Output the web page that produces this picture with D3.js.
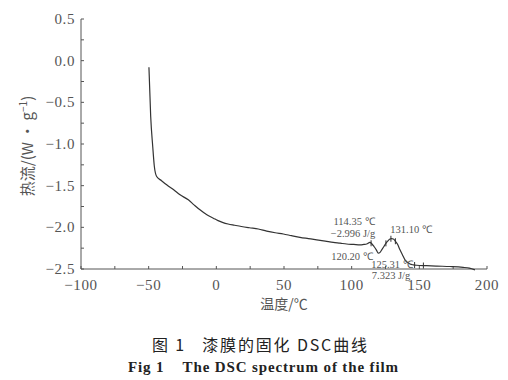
<!DOCTYPE html>
<html><head><meta charset="utf-8">
<script src="https://cdn.jsdelivr.net/npm/d3@7"></script>
<style>body{margin:0;background:#fff}svg{display:block}text{white-space:pre}</style>
</head><body>
<script>
// ---- data ----
const temps = [-49.8,-48.5,-47.0,-45.8,-44.1,-40.5,-36.7,-31.5,-26.8,-20.7,-16.5,-12.1,-7.0,-2.2,1.3,4.5,8.7,13.5,18.5,24.5,31.0,37.2,43.5,49.5,55.5,61.8,68.0,74.2,80.5,86.4,91.5,96.3,101.5,106.2,109.0,111.1,113.5,115.0,116.5,118.2,119.7,121.0,122.2,123.8,125.4,127.0,128.3,129.5,130.8,132.0,133.8,135.7,137.5,139.4,141.2,143.1,145.5,148.0,155.4,163.0,172.7,182.3,187.0,191.1];
const heatFlow = [-0.08,-0.67,-1.03,-1.27,-1.39,-1.44,-1.49,-1.55,-1.61,-1.67,-1.73,-1.79,-1.85,-1.89,-1.92,-1.94,-1.96,-1.975,-1.99,-2.005,-2.02,-2.045,-2.065,-2.08,-2.10,-2.12,-2.135,-2.15,-2.165,-2.18,-2.19,-2.20,-2.205,-2.21,-2.205,-2.20,-2.18,-2.20,-2.23,-2.27,-2.31,-2.30,-2.27,-2.23,-2.19,-2.16,-2.14,-2.135,-2.14,-2.16,-2.20,-2.27,-2.33,-2.39,-2.42,-2.44,-2.45,-2.455,-2.46,-2.465,-2.47,-2.48,-2.49,-2.51];
const xTicks = [-100,-50,0,50,100,150,200];
const yTicks = [0.5,0.0,-0.5,-1.0,-1.5,-2.0,-2.5];
const markTemps = [114.35,129.0,132.3,125.31,146.5,153.0];
const annotTexts = ["114.35 ℃","−2.996 J/g","131.10 ℃","120.20 ℃","125.31 ℃","7.323 J/g"];
const annotTemps = [101.7,101.0,143.9,100.2,129.8,129.1];
const annotValues = [-1.930,-2.068,-2.02,-2.344,-2.442,-2.580];

// ---- chart ----
const W=508,H=380;
const svg=d3.select("body").append("svg").attr("width",W).attr("height",H);
const x=d3.scaleLinear().domain([-100,200]).range([81,487]);
const y=d3.scaleLinear().domain([-2.5,0.5]).range([269,19]);
const axisColor="#555", textColor="#555";
const serif="'Liberation Serif','Times New Roman',serif";
const cjk="'Noto Sans CJK SC',sans-serif";

// axes lines
svg.append("line").attr("x1",x(-100)).attr("x2",x(200)).attr("y1",y(-2.5)).attr("y2",y(-2.5)).attr("stroke",axisColor).attr("stroke-width",1);
svg.append("line").attr("x1",x(-100)).attr("x2",x(-100)).attr("y1",y(-2.5)).attr("y2",y(0.5)).attr("stroke",axisColor).attr("stroke-width",1);

// minor ticks (inward)
const xMinor=d3.range(-100,201,25);
svg.selectAll(".xt").data(xMinor).join("line")
  .attr("x1",d=>x(d)).attr("x2",d=>x(d)).attr("y1",y(-2.5)).attr("y2",y(-2.5)-3)
  .attr("stroke",axisColor);
const yMinor=d3.range(-2.5,0.51,0.25);
svg.selectAll(".yt").data(yMinor).join("line")
  .attr("x1",x(-100)).attr("x2",x(-100)+3).attr("y1",d=>y(d)).attr("y2",d=>y(d))
  .attr("stroke",axisColor);

// tick labels
svg.selectAll(".xl").data(xTicks).join("text")
  .attr("x",d=>x(d)).attr("y",y(-2.5)+21).attr("text-anchor","middle")
  .attr("font-family",serif).attr("font-size",15).attr("letter-spacing",0.6).attr("fill",textColor)
  .text(d=>d<0?"−"+Math.abs(d):d);
svg.selectAll(".yl").data(yTicks).join("text")
  .attr("x",x(-100)-6).attr("y",d=>y(d)+5).attr("text-anchor","end")
  .attr("font-family",serif).attr("font-size",15).attr("letter-spacing",0.6).attr("fill",textColor)
  .text(d=>d<0?"−"+Math.abs(d).toFixed(1):d.toFixed(1));

// axis titles
svg.append("text").attr("x",284).attr("y",309).attr("text-anchor","middle")
  .attr("font-family",cjk).attr("font-size",14).attr("fill",textColor).text("温度/℃");
const yt=svg.append("text").attr("transform","translate(33,146) rotate(-90)").attr("text-anchor","middle")
  .attr("font-family",cjk).attr("font-size",15).attr("fill",textColor);
yt.append("tspan").text("热流/(W · g");
yt.append("tspan").attr("dy",-6).attr("font-size",10).text("−1");
yt.append("tspan").attr("dy",6).text(")");

// curve
const pts=temps.map((t,i)=>[t,heatFlow[i]]);
const line=d3.line().x(d=>x(d[0])).y(d=>y(d[1])).curve(d3.curveMonotoneX);
svg.append("path").attr("d",line(pts)).attr("fill","none").attr("stroke","#333").attr("stroke-width",1.2);

// markers on curve
const interp=d3.scaleLinear().domain(temps).range(heatFlow);
svg.selectAll(".mk").data(markTemps).join("line")
  .attr("x1",d=>x(d)).attr("x2",d=>x(d)).attr("y1",d=>y(interp(d))-3).attr("y2",d=>y(interp(d))+3)
  .attr("stroke","#333").attr("stroke-width",1);

// annotations
svg.selectAll(".an").data(annotTexts).join("text")
  .attr("x",(d,i)=>x(annotTemps[i])).attr("y",(d,i)=>y(annotValues[i])+3.5).attr("text-anchor","middle")
  .attr("font-family",serif).attr("font-size",10.5).attr("fill",textColor).text(d=>d);

// captions
svg.append("text").attr("x",152).attr("y",351)
  .attr("font-family",cjk).attr("font-size",16).attr("fill","#222")
  .attr("textLength",215).attr("lengthAdjust","spacing")
  .text("图 1   漆膜的固化 DSC曲线");
svg.append("text").attr("x",128).attr("y",372)
  .attr("font-family",serif).attr("font-size",15).attr("font-weight","bold").attr("fill","#222")
  .attr("textLength",270).attr("lengthAdjust","spacing")
  .text("Fig 1    The DSC spectrum of the film");
</script>
</body></html>
